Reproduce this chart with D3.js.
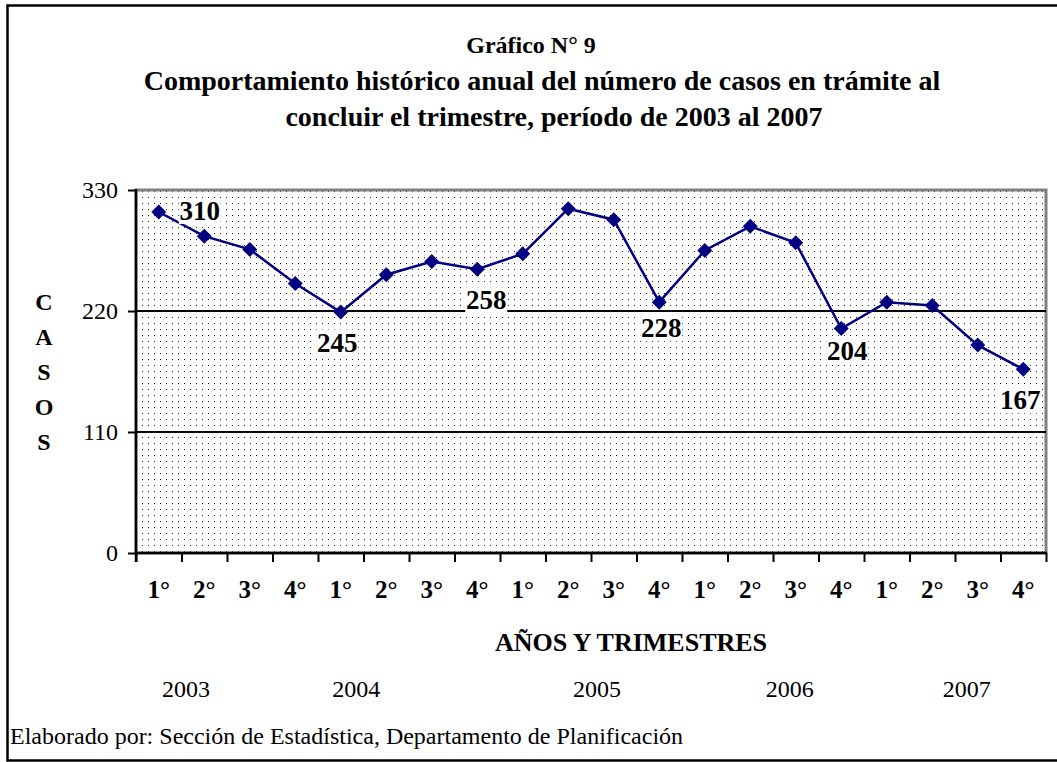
<!DOCTYPE html>
<html>
<head>
<meta charset="utf-8">
<script src="https://cdn.jsdelivr.net/npm/d3@7"></script>
<style>
  body { margin: 0; background: #fff; }
  svg { display: block; }
  text { font-family: "Liberation Serif", serif; }
</style>
</head>
<body>
<svg id="chart" width="1057" height="762"></svg>
<script>
// data
const quarters = ['1°','2°','3°','4°','1°','2°','3°','4°','1°','2°','3°','4°','1°','2°','3°','4°','1°','2°','3°','4°'];
const casos = [310, 288, 276, 245, 219, 253, 265, 258, 272, 313, 303, 228, 275, 297, 282, 204, 228, 225, 189, 167];
const years = ['2003', '2004', '2005', '2006', '2007'];
const yTicks = [0, 110, 220, 330];
const titleLines = ['Gráfico N° 9', 'Comportamiento histórico anual del número de casos en trámite al', 'concluir el trimestre, período de 2003 al 2007'];

// labelled points (index into casos) and where the label box sits relative to the point
const labelled = [
  {i: 0, dx: 41, dy: -1},
  {i: 3, dx: 42, dy: 59},
  {i: 7, dx: 9, dy: 31},
  {i: 11, dx: 2, dy: 26},
  {i: 15, dx: 6, dy: 22},
  {i: 19, dx: -3, dy: 31}
];
// year captions sit at these positions along the category axis (in category units)
const yearAt = [1.1, 4.84, 10.13, 14.37, 18.26];
// title line layout
const titleX = [531, 542, 554];
const titleY = [53, 90, 126];
const titleSize = [24, 28, 28];

const FONT = 'Liberation Serif';
const margin = {top: 190, left: 136, right: 1046, bottom: 553};
const svg = d3.select('#chart').attr('font-family', FONT);

// outer frame (runs off on the right)
svg.append('rect')
  .attr('x', 7.5).attr('y', 5.5)
  .attr('width', 1070).attr('height', 755)
  .attr('fill', 'none').attr('stroke', '#000').attr('stroke-width', 2.5);

const x = d3.scaleBand().domain(d3.range(casos.length)).range([margin.left, margin.right]).padding(0);
const xPos = d3.scaleLinear().domain([0, casos.length]).range([margin.left, margin.right]);
const y = d3.scaleLinear().domain([0, 330]).range([margin.bottom, margin.top]);

// dotted plot background
const defs = svg.append('defs');
const pat = defs.append('pattern')
  .attr('id', 'dots').attr('patternUnits', 'userSpaceOnUse')
  .attr('width', 6).attr('height', 6);
pat.append('rect').attr('width', 6).attr('height', 6).attr('fill', '#fff');
pat.append('rect').attr('x', 4).attr('y', 5).attr('width', 1).attr('height', 1).attr('fill', '#222');

svg.append('rect')
  .attr('x', margin.left).attr('y', margin.top)
  .attr('width', margin.right - margin.left).attr('height', margin.bottom - margin.top)
  .attr('fill', 'url(#dots)')
  .attr('stroke', '#808080').attr('stroke-width', 3);

// gridlines
svg.append('g').selectAll('line')
  .data(yTicks.filter(d => d > 0 && d < 330))
  .join('line')
  .attr('x1', margin.left).attr('x2', margin.right)
  .attr('y1', d => y(d)).attr('y2', d => y(d))
  .attr('stroke', '#000').attr('stroke-width', 2);

// y axis
const yAxis = svg.append('g')
  .attr('transform', `translate(${margin.left},0)`)
  .call(d3.axisLeft(y).tickValues(yTicks).tickSize(8).tickSizeOuter(0).tickPadding(10));
yAxis.attr('font-family', FONT).attr('font-size', 24);
yAxis.select('.domain').remove();
yAxis.selectAll('line').attr('stroke', '#000').attr('stroke-width', 2);
yAxis.selectAll('text').attr('fill', '#000');
svg.append('line')
  .attr('x1', margin.left).attr('x2', margin.left)
  .attr('y1', margin.top - 1).attr('y2', margin.bottom + 9)
  .attr('stroke', '#000').attr('stroke-width', 2.5);

// x axis: ticks between categories, labels centred in the bands
const xTickAxis = svg.append('g')
  .attr('transform', `translate(0,${margin.bottom})`)
  .call(d3.axisBottom(xPos).tickValues(d3.range(casos.length + 1)).tickSize(9).tickSizeOuter(0).tickFormat(''));
xTickAxis.select('.domain').remove();
xTickAxis.selectAll('line').attr('stroke', '#000').attr('stroke-width', 2);
svg.append('line')
  .attr('x1', margin.left).attr('x2', margin.right + 1)
  .attr('y1', margin.bottom).attr('y2', margin.bottom)
  .attr('stroke', '#000').attr('stroke-width', 2.5);

const xLabAxis = svg.append('g')
  .attr('transform', `translate(0,${margin.bottom})`)
  .call(d3.axisBottom(x).tickSize(0).tickPadding(27).tickFormat(i => quarters[i]));
xLabAxis.attr('font-family', FONT).attr('font-size', 25).attr('font-weight', 'bold');
xLabAxis.select('.domain').remove();
xLabAxis.selectAll('text').attr('fill', '#000');

// the series
const cx = i => x(i) + x.bandwidth() / 2;
svg.append('path')
  .datum(casos)
  .attr('fill', 'none')
  .attr('stroke', '#000080')
  .attr('stroke-width', 2.5)
  .attr('d', d3.line().x((d, i) => cx(i)).y(d => y(d)));

svg.append('g').selectAll('path')
  .data(casos)
  .join('path')
  .attr('d', d3.symbol(d3.symbolSquare, 112))
  .attr('transform', (d, i) => `translate(${cx(i)},${y(casos[i])}) rotate(45)`)
  .attr('fill', '#000080');

// data labels with white boxes
const lab = svg.append('g').selectAll('g')
  .data(labelled)
  .join('g')
  .attr('transform', d => `translate(${cx(d.i) + d.dx},${y(casos[d.i]) + d.dy})`);
lab.append('rect')
  .attr('x', -21).attr('y', -13).attr('width', 42).attr('height', 26)
  .attr('fill', '#fff');
lab.append('text')
  .attr('text-anchor', 'middle')
  .attr('dy', '0.34em')
  .attr('font-size', 27)
  .attr('font-weight', 'bold')
  .text(d => casos[d.i]);

// title
svg.append('g').selectAll('text')
  .data(titleLines)
  .join('text')
  .attr('x', (d, i) => titleX[i])
  .attr('y', (d, i) => titleY[i])
  .attr('text-anchor', 'middle')
  .attr('font-size', (d, i) => titleSize[i])
  .attr('font-weight', 'bold')
  .text(d => d);

// vertical axis title
svg.append('g').selectAll('text')
  .data('CASOS'.split(''))
  .join('text')
  .attr('x', 44)
  .attr('y', (d, i) => 310 + i * 35)
  .attr('text-anchor', 'middle')
  .attr('font-size', 24)
  .attr('font-weight', 'bold')
  .text(d => d);

svg.append('text')
  .attr('x', 631).attr('y', 651)
  .attr('text-anchor', 'middle')
  .attr('font-size', 26)
  .attr('font-weight', 'bold')
  .text('AÑOS Y TRIMESTRES');

svg.append('g').selectAll('text')
  .data(years)
  .join('text')
  .attr('x', (d, i) => xPos(yearAt[i]))
  .attr('y', 697)
  .attr('text-anchor', 'middle')
  .attr('font-size', 24)
  .text(d => d);

svg.append('text')
  .attr('x', 10).attr('y', 744)
  .attr('font-size', 24)
  .text('Elaborado por: Sección de Estadística, Departamento de Planificación');
</script>
</body>
</html>
